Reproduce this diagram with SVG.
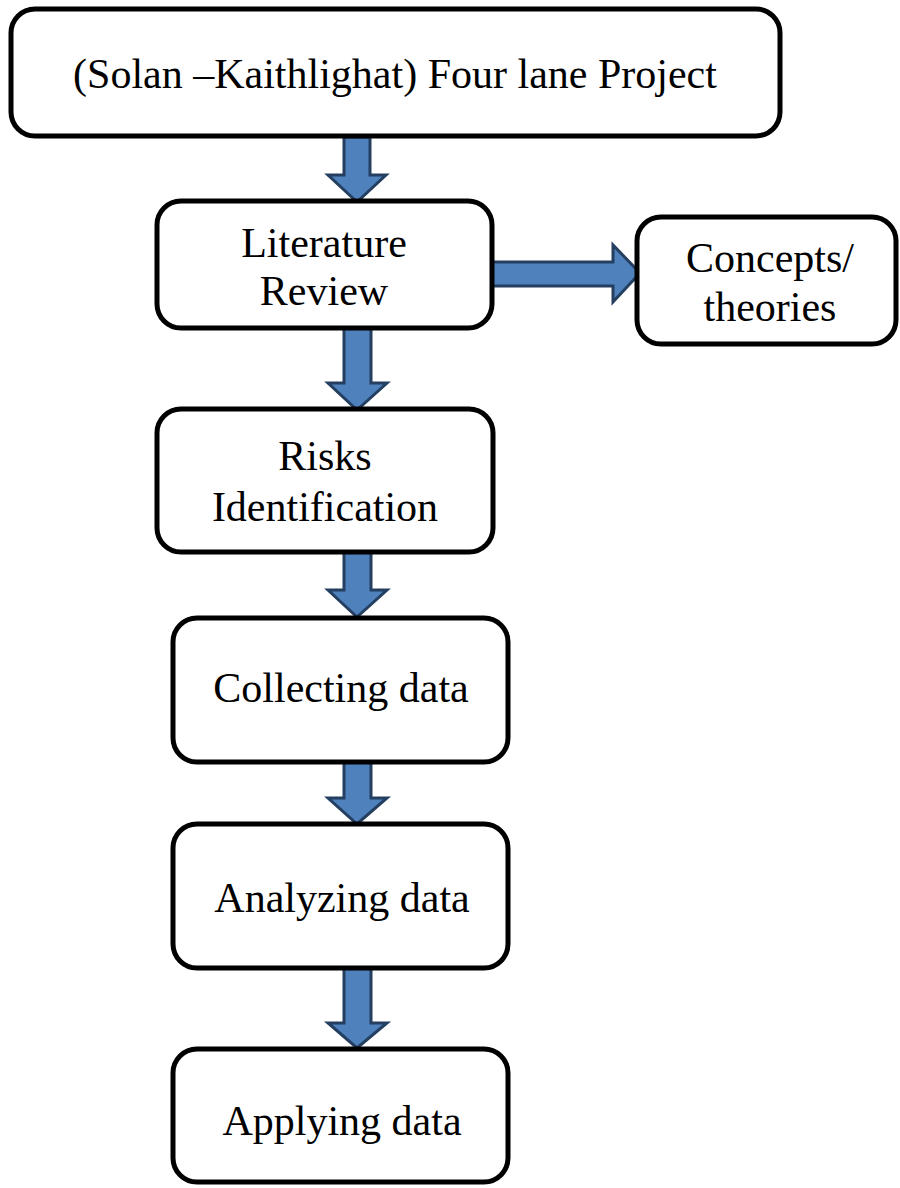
<svg xmlns="http://www.w3.org/2000/svg" width="900" height="1188" viewBox="0 0 900 1188">
<style>
.box{fill:#fff;stroke:#000;stroke-width:5}
.t{font-family:"Liberation Serif","Times New Roman",serif;font-size:42px;fill:#000;text-anchor:middle}
.arr{fill:#4f81bd;stroke:#243f60;stroke-width:3;stroke-linejoin:miter}
</style>
<rect width="900" height="1188" fill="#fff"/>
<g id="connectors">
<path class="arr" d="M344,137 L370,137 L370,175 L386,175 L357,202 L328,175 L344,175 Z"/>
<path class="arr" d="M492,262 L613,262 L613,245 L640,273 L613,302 L613,286 L492,286 Z"/>
<path class="arr" d="M344,328 L371,328 L371,383 L387,383 L357,410 L328,383 L344,383 Z"/>
<path class="arr" d="M344,552 L371,552 L371,590 L387,590 L357,617 L328,590 L344,590 Z"/>
<path class="arr" d="M344,762 L371,762 L371,798 L387,798 L357,824 L328,798 L344,798 Z"/>
<path class="arr" d="M344,968 L371,968 L371,1023 L387,1023 L357,1048 L328,1023 L344,1023 Z"/>
</g>
<g id="node-project">
<rect class="box" x="11" y="9" width="769" height="127" rx="24"/>
<text class="t" x="395" y="88">(Solan –Kaithlighat) Four lane Project</text>
</g>
<g id="node-literature">
<rect class="box" x="157" y="201" width="335" height="127" rx="24"/>
<text class="t" x="324" y="257">Literature</text>
<text class="t" x="324" y="305">Review</text>
</g>
<g id="node-concepts">
<rect class="box" x="637" y="217" width="259" height="127" rx="24"/>
<text class="t" x="770" y="272">Concepts/</text>
<text class="t" x="770" y="321">theories</text>
</g>
<g id="node-risks">
<rect class="box" x="157" y="409" width="336" height="143" rx="24"/>
<text class="t" x="325" y="470">Risks</text>
<text class="t" x="325" y="521">Identification</text>
</g>
<g id="node-collecting">
<rect class="box" x="173" y="618" width="335" height="144" rx="24"/>
<text class="t" x="341" y="702">Collecting data</text>
</g>
<g id="node-analyzing">
<rect class="box" x="173" y="824" width="335" height="144" rx="24"/>
<text class="t" x="342" y="912">Analyzing data</text>
</g>
<g id="node-applying">
<rect class="box" x="173" y="1049" width="335" height="133" rx="24"/>
<text class="t" x="342" y="1135">Applying data</text>
</g>
</svg>
